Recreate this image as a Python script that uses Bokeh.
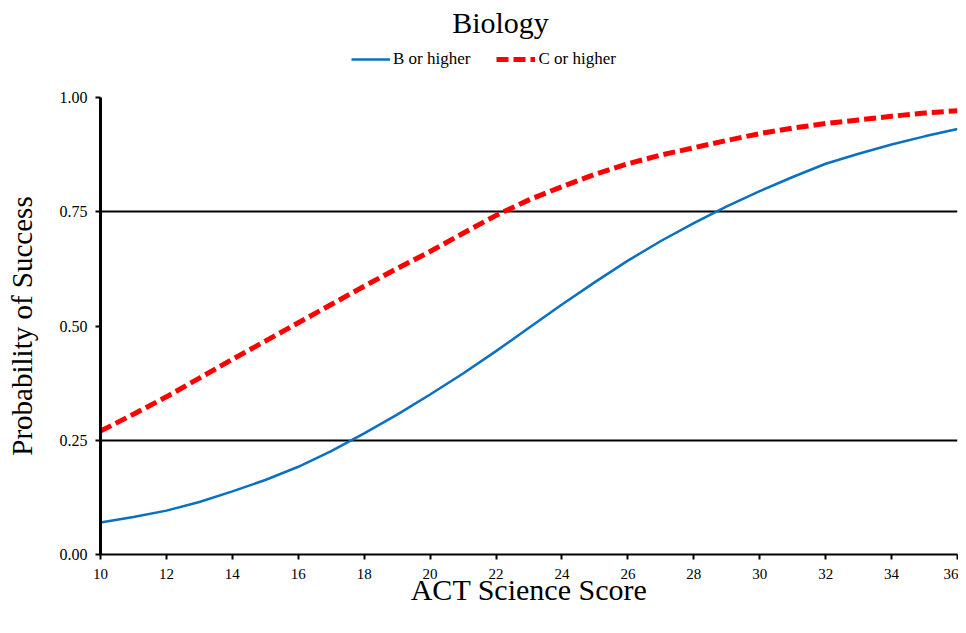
from bokeh.plotting import figure
from bokeh.models import FixedTicker, Legend, LegendItem, NumeralTickFormatter, Label
from bokeh.layouts import column
from bokeh.embed import file_html
from bokeh.resources import INLINE

# Data
act_score = [10, 11, 12, 13, 14, 15, 16, 17, 18, 19, 20, 21, 22, 23, 24, 25, 26, 27, 28, 29, 30, 31, 32, 33, 34, 35, 36]
b_or_higher = [0.070, 0.082, 0.096, 0.115, 0.138, 0.163, 0.192, 0.226, 0.265, 0.306, 0.350, 0.396, 0.445,
               0.496, 0.547, 0.596, 0.643, 0.686, 0.725, 0.762, 0.795, 0.826, 0.855, 0.877, 0.897, 0.915, 0.931]
c_or_higher = [0.270, 0.307, 0.345, 0.386, 0.427, 0.467, 0.507, 0.547, 0.587, 0.626, 0.663, 0.703, 0.742,
               0.776, 0.805, 0.832, 0.855, 0.874, 0.890, 0.906, 0.921, 0.933, 0.943, 0.951, 0.959, 0.966, 0.971]
x_ticks = [10, 12, 14, 16, 18, 20, 22, 24, 26, 28, 30, 32, 34, 36]
y_ticks = [0.0, 0.25, 0.5, 0.75, 1.0]
grid_lines = [0.25, 0.75, 1.0]
title_text = "Biology"
series_names = ["B or higher", "C or higher"]

FONT = "Liberation Serif"
BLUE = "#0A70C0"
RED = "#FF0000"

W = 958
HEAD_H = 87
LEFT, RIGHT, TOP = 100, 1, 10

# ---- header: title + legend ----
head = figure(width=W, height=HEAD_H, output_backend="svg", toolbar_location=None,
              x_range=(LEFT, W - RIGHT), y_range=(0, HEAD_H - TOP), x_axis_type=None, y_axis_type=None,
              min_border_left=LEFT, min_border_right=RIGHT, min_border_top=TOP, min_border_bottom=0)
head.outline_line_color = None
head.xgrid.grid_line_color = None
head.ygrid.grid_line_color = None

head.add_layout(Label(x=500, y=HEAD_H - 22, text=title_text, text_font=FONT, text_font_size="30px",
                      text_align="center", text_baseline="alphabetic", text_color="black"))

hb = head.line(x=[act_score[0]], y=[b_or_higher[0]], line_color=BLUE, line_width=2.5)
hc = head.line(x=[act_score[0]], y=[c_or_higher[0]], line_color=RED, line_width=5, line_dash="12 5")
legend = Legend(items=[LegendItem(label=series_names[0], renderers=[hb]),
                       LegendItem(label=series_names[1], renderers=[hc])],
                orientation="horizontal", location=(251, 18),
                label_text_font=FONT, label_text_font_size="17px", label_text_color="black",
                glyph_width=39, glyph_height=10, spacing=26, label_standoff=3,
                border_line_color=None, background_fill_alpha=0,
                padding=2, margin=0)
head.add_layout(legend, "center")

# ---- main plot ----
p = figure(width=W, height=625 - HEAD_H, output_backend="svg", toolbar_location=None,
           x_range=(10, 36), y_range=(0, 1),
           min_border_left=LEFT, min_border_right=RIGHT, min_border_bottom=71, min_border_top=TOP)

p.outline_line_color = None
p.background_fill_color = "white"

p.xaxis.ticker = FixedTicker(ticks=x_ticks)
p.yaxis.ticker = FixedTicker(ticks=y_ticks)
p.yaxis.formatter = NumeralTickFormatter(format="0.00")
for ax in (p.xaxis[0], p.yaxis[0]):
    ax.axis_line_color = "black"
    ax.major_tick_line_color = "black"
    ax.major_tick_line_width = 2
    ax.major_tick_out = 5
    ax.major_tick_in = 0
    ax.minor_tick_line_color = None
    ax.major_label_text_font = FONT
    ax.major_label_text_color = "black"
    ax.axis_label_text_font = FONT
    ax.axis_label_text_font_style = "normal"
    ax.axis_label_text_color = "black"

p.yaxis.axis_line_width = 3
p.xaxis.axis_line_width = 2
p.xaxis.major_label_text_font_size = "15px"
p.yaxis.major_label_text_font_size = "16px"
p.xaxis.axis_label = "ACT Science Score"
p.yaxis.axis_label = "Probability of Success"
p.xaxis.axis_label_text_font_size = "30px"
p.yaxis.axis_label_text_font_size = "29px"
p.xaxis.major_label_standoff = 9
p.yaxis.major_label_standoff = 8
p.xaxis.axis_label_standoff = -9
p.yaxis.axis_label_standoff = 19

p.xgrid.grid_line_color = None
p.ygrid.ticker = FixedTicker(ticks=grid_lines)
p.ygrid.grid_line_color = "black"
p.ygrid.grid_line_width = 2

p.line(act_score, b_or_higher, line_color=BLUE, line_width=2.5)
p.line(act_score, c_or_higher, line_color=RED, line_width=5, line_dash="12 5")

layout = column(head, p, spacing=0)
open("out.html", "w").write(file_html(layout, INLINE))
